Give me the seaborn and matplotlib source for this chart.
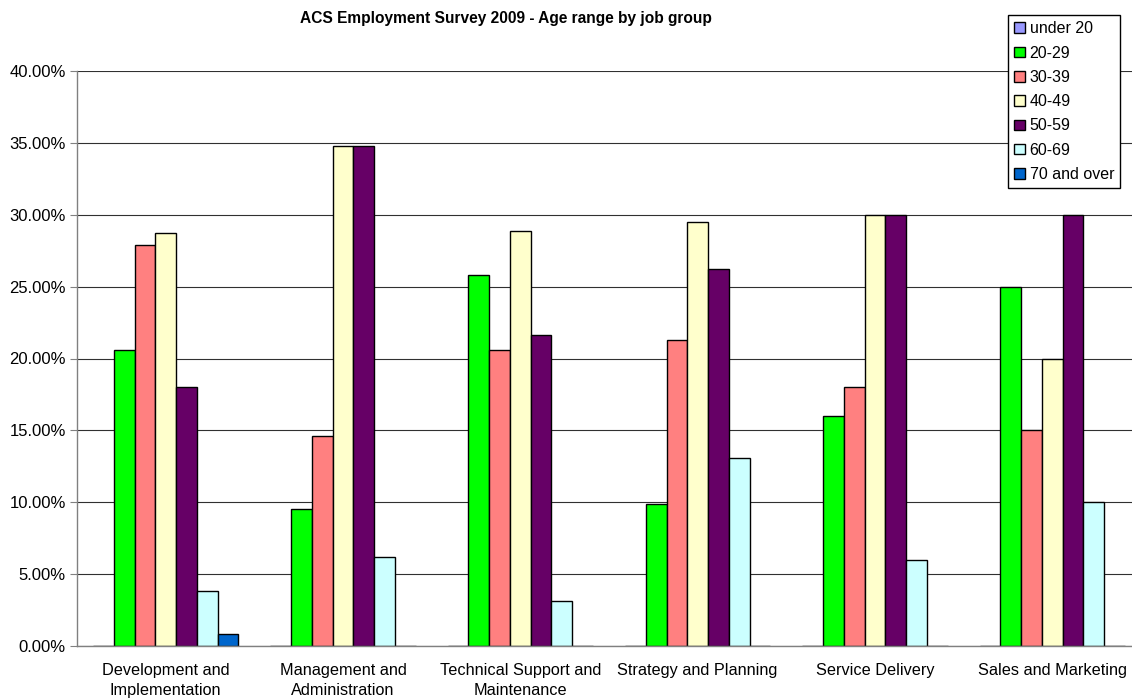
import pandas as pd
import seaborn as sns
import matplotlib.pyplot as plt
from matplotlib.ticker import FuncFormatter, FixedLocator

# Job groups and age ranges
job_groups = ["Development and\nImplementation", "Management and\nAdministration",
              "Technical Support and\nMaintenance", "Strategy and Planning",
              "Service Delivery", "Sales and Marketing"]
age_ranges = ["under 20", "20-29", "30-39", "40-49", "50-59", "60-69", "70 and over"]

# Percentages per age range (one value per job group)
under_20 = [0.0, 0.0, 0.0, 0.0, 0.0, 0.0]
age_20_29 = [20.6, 9.55, 25.8, 9.85, 16.0, 25.0]
age_30_39 = [27.9, 14.6, 20.6, 21.3, 18.0, 15.0]
age_40_49 = [28.75, 34.8, 28.85, 29.5, 30.0, 20.0]
age_50_59 = [18.0, 34.8, 21.65, 26.2, 30.0, 30.0]
age_60_69 = [3.85, 6.2, 3.1, 13.1, 6.0, 10.0]
age_70_over = [0.85, 0.0, 0.0, 0.0, 0.0, 0.0]

colors = ["#9999FF", "#00FF00", "#FF8080", "#FFFFCC", "#660066", "#CCFFFF", "#0066CC"]

series = [under_20, age_20_29, age_30_39, age_40_49, age_50_59, age_60_69, age_70_over]
rows = []
for age, vals in zip(age_ranges, series):
    for group, v in zip(job_groups, vals):
        rows.append({"group": group, "age": age, "pct": v})
df = pd.DataFrame(rows)

sns.set_style("white", {"text.color": "black", "xtick.color": "black", "ytick.color": "black"})
plt.rcParams['font.family'] = ['Liberation Sans', 'DejaVu Sans']

fig = plt.figure(figsize=(11.32, 7), dpi=100)
ax = fig.add_axes([77 / 1132, 1 - 646 / 700, 1064 / 1132, 575 / 700])

sns.barplot(data=df, x="group", y="pct", hue="age", order=job_groups, hue_order=age_ranges,
            palette=colors, width=0.82, edgecolor="black", linewidth=1, saturation=1, ax=ax)

ax.set_ylim(0, 40)
ax.set_xlim(-0.5, 5.5)
ax.set_yticks(range(0, 41, 5))
ax.yaxis.set_major_formatter(FuncFormatter(lambda v, p: f"{v:.2f}%"))
ax.grid(axis="y", color="#303030", linewidth=0.8)
ax.set_axisbelow(True)

ax.set_xlabel("")
ax.set_ylabel("")
ax.tick_params(axis="x", which="major", length=0, labelsize=11.7, pad=12, labelcolor="black")
for lbl in ax.get_xticklabels():
    lbl.set_linespacing(1.45)
ax.xaxis.set_minor_locator(FixedLocator([i - 0.5 for i in range(7)]))
ax.tick_params(axis="x", which="minor", length=5, color="#808080", direction="out")
ax.tick_params(axis="y", length=5, color="#808080", direction="out", labelsize=12,
               left=True, labelcolor="black", pad=3)

for side in ["top", "right"]:
    ax.spines[side].set_visible(False)
for side in ["left", "bottom"]:
    ax.spines[side].set_color("#808080")
    ax.spines[side].set_linewidth(1)

handles, labels = ax.get_legend_handles_labels()
leg = ax.legend(handles, labels, loc="upper left", bbox_to_anchor=(1008 / 1132, 1 - 15 / 700),
                bbox_transform=fig.transFigure, frameon=True, fancybox=False, framealpha=1,
                edgecolor="black", fontsize=11.5, handlelength=0.65, handleheight=0.65,
                handletextpad=0.3, labelspacing=0.58, borderpad=0.4, borderaxespad=0)
for t in leg.get_texts():
    t.set_color("black")

fig.text(506 / 1132, 1 - 19 / 700, "ACS Employment Survey 2009 - Age range by job group",
         ha="center", va="center", fontsize=11.2, fontweight="bold", color="black")

fig.savefig("out.png", dpi=100)
